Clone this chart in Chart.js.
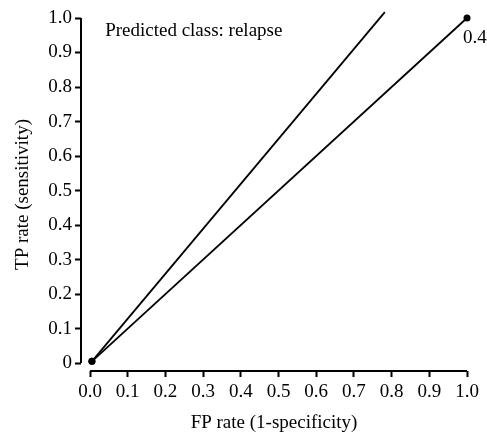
<!DOCTYPE html>
<html>
<head>
<meta charset="utf-8">
<script src="https://cdn.jsdelivr.net/npm/chart.js@4"></script>
<style>
  html, body { margin: 0; padding: 0; background: #fff; }
  canvas { display: block; }
</style>
</head>
<body>
<canvas id="roc" width="487" height="438"></canvas>
<script>
// ROC space: two classifiers against the (FP rate, TP rate) plane

const xTicks = [0, 0.1, 0.2, 0.3, 0.4, 0.5, 0.6, 0.7, 0.8, 0.9, 1.0];
const xTickLabels = ['0.0', '0.1', '0.2', '0.3', '0.4', '0.5', '0.6', '0.7', '0.8', '0.9', '1.0'];
const yTicks = [0, 0.1, 0.2, 0.3, 0.4, 0.5, 0.6, 0.7, 0.8, 0.9, 1.0];
const yTickLabels = ['0', '0.1', '0.2', '0.3', '0.4', '0.5', '0.6', '0.7', '0.8', '0.9', '1.0'];

// diagonal curve with its threshold points
const diagFP = [0.005, 1.0];
const diagTP = [0.005, 1.0];
const diagLabels = ['', '0.4'];

// steeper curve
const steepFP = [0.005, 0.782];
const steepTP = [0.005, 1.017];

const panelText = 'Predicted class: relapse';

const serif = "'Liberation Serif', 'Times New Roman', serif";
Chart.defaults.font.family = serif;
Chart.defaults.font.size = 19;
Chart.defaults.color = '#000';

const toPoints = (xs, ys) => xs.map((x, i) => ({ x: x, y: ys[i] }));

// axis lines only over 0..1, so the two axes don't meet at the corner
const axisLines = {
    id: 'axisLines',
    afterDraw(chart) {
        const { ctx, scales: { x, y }, chartArea } = chart;
        ctx.save();
        ctx.strokeStyle = '#000';
        ctx.lineWidth = 2;
        ctx.beginPath();
        ctx.moveTo(chartArea.left, y.getPixelForValue(1));
        ctx.lineTo(chartArea.left, y.getPixelForValue(0));
        ctx.moveTo(x.getPixelForValue(0), chartArea.bottom);
        ctx.lineTo(x.getPixelForValue(1), chartArea.bottom);
        ctx.stroke();
        ctx.restore();
    }
};

// threshold labels and the panel caption
const textLabels = {
    id: 'textLabels',
    afterDatasetsDraw(chart) {
        const { ctx, scales: { x, y } } = chart;
        ctx.save();
        ctx.font = `19px ${serif}`;
        ctx.fillStyle = '#000';
        ctx.textBaseline = 'middle';
        ctx.textAlign = 'left';
        ctx.fillText(panelText, x.getPixelForValue(0.04), y.getPixelForValue(0.962));
        diagFP.forEach((fp, i) => {
            if (!diagLabels[i]) return;
            ctx.fillText(diagLabels[i], x.getPixelForValue(fp) - 4, y.getPixelForValue(diagTP[i]) + 20);
        });
        ctx.restore();
    }
};

new Chart(document.getElementById('roc'), {
    type: 'scatter',
    data: {
        datasets: [
            {
                data: toPoints(steepFP, steepTP),
                showLine: true,
                borderColor: '#000',
                borderWidth: 1.8,
                pointRadius: [3.5, 0],
                pointBackgroundColor: '#000',
                pointBorderWidth: 0,
                clip: false
            },
            {
                data: toPoints(diagFP, diagTP),
                showLine: true,
                borderColor: '#000',
                borderWidth: 1.8,
                pointRadius: 3.5,
                pointBackgroundColor: '#000',
                pointBorderWidth: 0,
                clip: false
            }
        ]
    },
    options: {
        responsive: false,
        animation: false,
        layout: { padding: { top: 18, right: 20, left: 0, bottom: 0 } },
        plugins: { legend: { display: false }, tooltip: { enabled: false } },
        scales: {
            x: {
                type: 'linear',
                min: -0.024,
                max: 1.0,
                afterBuildTicks: s => { s.ticks = xTicks.map(v => ({ value: v })); },
                afterFit: s => { s.height = 67; },
                ticks: { callback: (v, i) => xTickLabels[i], padding: 4, maxRotation: 0, autoSkip: false },
                grid: { drawOnChartArea: false, drawTicks: true, tickLength: 6, tickWidth: 2, color: '#000' },
                border: { display: false },
                title: { display: true, text: 'FP rate (1-specificity)', padding: { top: 0, bottom: 4 } }
            },
            y: {
                type: 'linear',
                min: -0.023,
                max: 1.0,
                afterBuildTicks: s => { s.ticks = yTicks.map(v => ({ value: v })); },
                afterFit: s => { s.width = 81; },
                ticks: { callback: (v, i) => yTickLabels[i], padding: 3, autoSkip: false },
                grid: { drawOnChartArea: false, drawTicks: true, tickLength: 6, tickWidth: 2, color: '#000' },
                border: { display: false },
                title: { display: true, text: 'TP rate (sensitivity)', padding: { top: 12, bottom: 0 } }
            }
        }
    },
    plugins: [axisLines, textLabels]
});
</script>
</body>
</html>
